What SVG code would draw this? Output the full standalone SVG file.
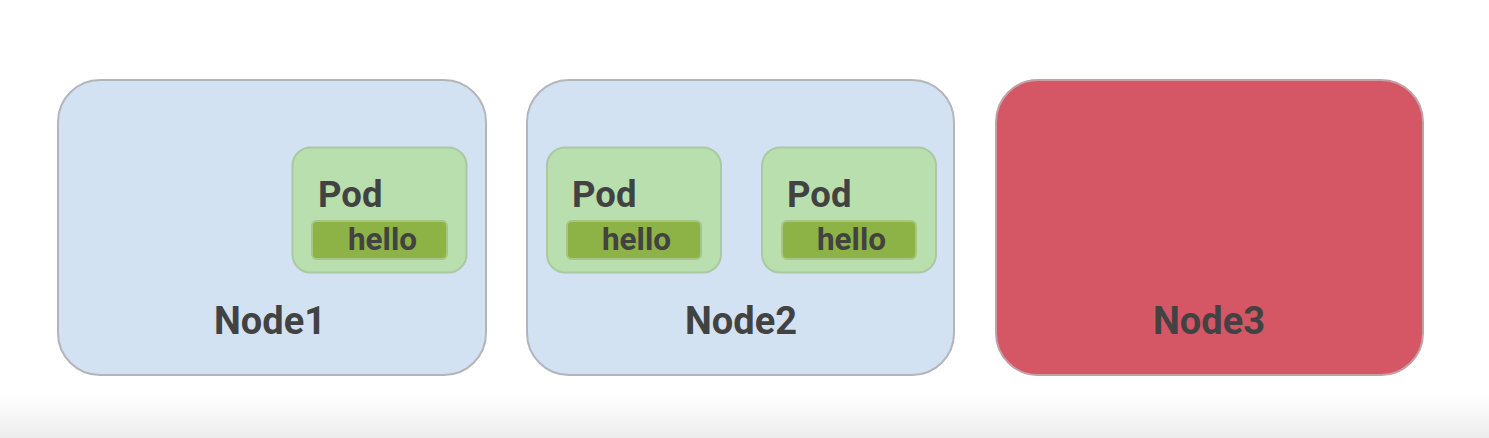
<svg xmlns="http://www.w3.org/2000/svg" width="1489" height="438" viewBox="0 0 1489 438">
<defs>
<linearGradient id="floor" x1="0" y1="0" x2="0" y2="1">
<stop offset="0" stop-color="#ffffff"/>
<stop offset="1" stop-color="#ececec"/>
</linearGradient>
</defs>
<style>
.node{fill:#d2e2f3;stroke:#b3b5ba;stroke-width:2}
.down{fill:#d55766;stroke:#c4a0a6;stroke-width:2}
.pod{fill:#b9dfae;stroke:#a8c9a2;stroke-width:2}
.ctr{fill:#8db347;stroke:#a7c585;stroke-width:2}
text{font-family:Roboto,"Liberation Sans",sans-serif;font-weight:bold;fill:#424242}
.nl{font-size:38px;text-anchor:middle}
.pl{font-size:36.5px}
.hl{font-size:31.5px;text-anchor:middle}
</style>
<rect x="0" y="0" width="1489" height="438" fill="#ffffff"/>
<rect x="0" y="394" width="1489" height="44" fill="url(#floor)"/>
<g id="node1">
<rect class="node" x="58" y="80" width="428" height="295" rx="42"/>
<text class="nl" x="270" y="334">Node1</text>
</g>
<g id="node1-pod">
<rect class="pod" x="292.5" y="147.5" width="174" height="125" rx="18"/>
<text class="pl" x="318" y="207">Pod</text>
<rect class="ctr" x="312" y="221" width="135" height="38" rx="5"/>
<text class="hl" x="382.5" y="250">hello</text>
</g>
<g id="node2">
<rect class="node" x="527" y="80" width="427" height="295" rx="42"/>
<text class="nl" x="741" y="334">Node2</text>
</g>
<g id="node2-pod1">
<rect class="pod" x="547" y="147.5" width="174" height="125" rx="18"/>
<text class="pl" x="572" y="207">Pod</text>
<rect class="ctr" x="567" y="221" width="134" height="38" rx="5"/>
<text class="hl" x="636.5" y="250">hello</text>
</g>
<g id="node2-pod2">
<rect class="pod" x="762" y="147.5" width="174" height="125" rx="18"/>
<text class="pl" x="787" y="207">Pod</text>
<rect class="ctr" x="782" y="221" width="134" height="38" rx="5"/>
<text class="hl" x="851.5" y="250">hello</text>
</g>
<g id="node3">
<rect class="down" x="996" y="80" width="427" height="295" rx="42"/>
<text class="nl" x="1209" y="334">Node3</text>
</g>
<g id="connectors"></g>
</svg>
